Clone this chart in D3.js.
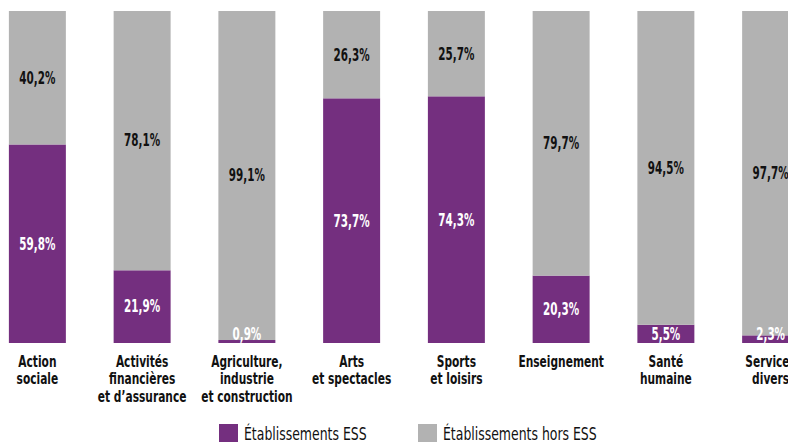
<!DOCTYPE html>
<html>
<head>
<meta charset="utf-8">
<script src="https://cdn.jsdelivr.net/npm/d3@7"></script>
<style>
  html, body { margin: 0; padding: 0; background: #fff; }
  svg { display: block; overflow: hidden; }
  text { font-family: "DejaVu Sans Condensed", "DejaVu Sans", sans-serif; }
</style>
</head>
<body>
<div id="chart"></div>
<script>
// Part des établissements ESS / hors ESS par secteur d'activité
const categories = [
  ["Action", "sociale"],
  ["Activités", "financières", "et d\u2019assurance"],
  ["Agriculture,", "industrie", "et construction"],
  ["Arts", "et spectacles"],
  ["Sports", "et loisirs"],
  ["Enseignement"],
  ["Santé", "humaine"],
  ["Services", "divers"]
];
const essValues = [59.8, 21.9, 0.9, 73.7, 74.3, 20.3, 5.5, 2.3];
const horsEssValues = [40.2, 78.1, 99.1, 26.3, 25.7, 79.7, 94.5, 97.7];
const seriesNames = ["Établissements ESS", "Établissements hors ESS"];
const seriesColors = ["#742f7f", "#b2b2b2"];

const width = 788, height = 442;
const svg = d3.select("#chart").append("svg")
  .attr("width", width).attr("height", height);

// narrow the lettering horizontally to get a condensed face
const narrow = (px, py, sx) => `translate(${px},${py}) scale(${sx},1)`;

const rows = categories.map((c, i) => ({ i, lines: c, ess: essValues[i], hors: horsEssValues[i] }));

const x = d3.scaleBand()
  .domain(rows.map(d => d.i))
  .range([-15, 823])
  .paddingInner(0.456)
  .paddingOuter(0.228);

const y = d3.scaleLinear().domain([0, 100]).range([343, 11]);

const stack = d3.stack().keys(["ess", "hors"]);
const layers = stack(rows);

const g = svg.append("g");

layers.forEach((layer, k) => {
  g.selectAll(null)
    .data(layer)
    .join("rect")
    .attr("x", d => x(d.data.i))
    .attr("width", x.bandwidth())
    .attr("y", d => y(d[1]))
    .attr("height", d => y(d[0]) - y(d[1]))
    .attr("fill", seriesColors[k]);
});

// Value labels, centred in each segment; small ESS shares sit at the foot of the bar
layers.forEach((layer, k) => {
  g.selectAll(null)
    .data(layer)
    .join("text")
    .attr("transform", d => narrow(
      x(d.data.i) + x.bandwidth() / 2,
      Math.min((y(d[0]) + y(d[1])) / 2, 334),
      0.68))
    .attr("text-anchor", "middle")
    .attr("dominant-baseline", "central")
    .attr("font-size", 17)
    .attr("font-weight", "bold")
    .attr("fill", d => (k === 0 ? "#fff" : "#111"))
    .text(d => d3.format(".1f")(d[1] - d[0]).replace(".", ",") + "%");
});

// Category labels under the bars
const xAxis = svg.append("g");
rows.forEach(d => {
  const t = xAxis.append("text")
    .attr("transform", narrow(x(d.i) + x.bandwidth() / 2, 367, 0.74))
    .attr("text-anchor", "middle")
    .attr("font-size", 16)
    .attr("font-weight", "bold")
    .attr("fill", "#111");
  d.lines.forEach((line, j) => {
    t.append("tspan")
      .attr("x", 0)
      .attr("dy", j === 0 ? 0 : 17.4)
      .text(line);
  });
});

// Legend
const legendX = [219, 418];
const legend = svg.append("g");
seriesNames.forEach((name, k) => {
  legend.append("rect")
    .attr("x", legendX[k]).attr("y", 424)
    .attr("width", 19).attr("height", 19)
    .attr("fill", seriesColors[k]);
  legend.append("text")
    .attr("transform", narrow(legendX[k] + 25, 440, 0.77))
    .attr("font-size", 18)
    .attr("fill", "#111")
    .text(name);
});
</script>
</body>
</html>
